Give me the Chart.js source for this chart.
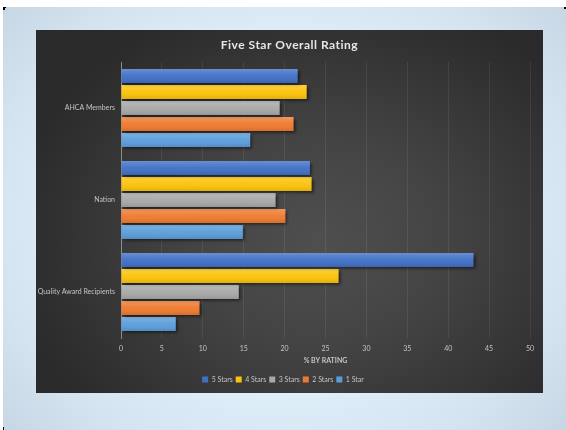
<!DOCTYPE html>
<html>
<head>
<meta charset="utf-8">
<script src="https://cdn.jsdelivr.net/npm/chart.js@4/dist/chart.umd.min.js"></script>
<style>
  html, body { margin: 0; padding: 0; background: #ffffff; }
  body { width: 566px; height: 430px; position: relative; overflow: hidden; }
  #frame {
    position: absolute; left: 3px; top: 7px; width: 563px; height: 423px;
    background: radial-gradient(ellipse 70% 80% at 50% 50%, #e8f6fd 0%, #e2f1fb 45%, #d3e3f0 75%, #c3d3e1 100%);
  }
  .mark { position: absolute; background: #000; }
  #panel {
    position: absolute; left: 36px; top: 30px; width: 507px; height: 363px;
    background: radial-gradient(ellipse 62% 70% at 56% 58%, #4f4f4f 0%, #444444 40%, #363636 72%, #2a2a2a 100%);
  }
  #panel canvas { position: absolute; left: 0; top: 0; }
</style>
</head>
<body>
<div id="frame"></div>
<div class="mark" style="left:3px;top:7px;width:2px;height:3px"></div>
<div class="mark" style="left:3px;top:7px;width:3px;height:1px"></div>
<div class="mark" style="left:564px;top:7px;width:2px;height:2px"></div>
<div class="mark" style="left:3px;top:427px;width:1px;height:3px"></div>
<div id="panel"><canvas id="chart" width="507" height="363"></canvas></div>
<script>
// Five Star Overall Rating — share of facilities (%) by star rating
const chartTitle = 'Five Star Overall Rating';
const categories = ['AHCA Members', 'Nation', 'Quality Award Recipients'];
const seriesNames = ['5 Stars', '4 Stars', '3 Stars', '2 Stars', '1 Star'];
const fiveStars  = [21.6, 23.1, 43.1];
const fourStars  = [22.7, 23.3, 26.6];
const threeStars = [19.4, 18.9, 14.4];
const twoStars   = [21.1, 20.1, 9.6];
const oneStar    = [15.8, 14.9, 6.7];
const seriesColors = ['#3f6fc6', '#fcc30a', '#a8a8a8', '#ef7a2e', '#5a9ddb'];
const xTicks = { min: 0, max: 50, step: 5 };

const seriesValues = [fiveStars, fourStars, threeStars, twoStars, oneStar];

const labelColor = '#c4c4c4';
const fontFamily = 'Lato, "Open Sans", sans-serif';

// Drop shadow behind the bars, then a soft top-lit sheen on each bar
const barStyling = {
  id: 'barStyling',
  beforeDatasetsDraw(chart) {
    const ctx = chart.ctx;
    ctx.save();
    ctx.shadowColor = 'rgba(0,0,0,0.55)';
    ctx.shadowBlur = 3;
    ctx.shadowOffsetX = 2;
    ctx.shadowOffsetY = 2;
  },
  afterDatasetsDraw(chart) {
    const ctx = chart.ctx;
    ctx.restore();
    chart.data.datasets.forEach((ds, i) => {
      const meta = chart.getDatasetMeta(i);
      meta.data.forEach(bar => {
        const top = bar.y - bar.height / 2;
        const g = ctx.createLinearGradient(0, top, 0, top + bar.height);
        g.addColorStop(0, 'rgba(255,255,255,0.22)');
        g.addColorStop(0.5, 'rgba(255,255,255,0.04)');
        g.addColorStop(1, 'rgba(0,0,0,0.10)');
        ctx.fillStyle = g;
        ctx.fillRect(bar.base, top, bar.x - bar.base, bar.height);
      });
    });
  }
};

// Letter-spaced chart heading, drawn in the space reserved by the top padding
const spacedTitle = {
  id: 'spacedTitle',
  afterDraw(chart) {
    const ctx = chart.ctx;
    ctx.save();
    ctx.font = 'bold 12px ' + fontFamily;
    if ('letterSpacing' in ctx) ctx.letterSpacing = '0.5px';
    ctx.fillStyle = '#e6e6e6';
    ctx.textAlign = 'center';
    ctx.textBaseline = 'middle';
    ctx.fillText(chartTitle, chart.width / 2, 15);
    ctx.restore();
  }
};

new Chart(document.getElementById('chart'), {
  type: 'bar',
  data: {
    labels: categories,
    datasets: seriesNames.map((name, i) => ({
      label: name,
      data: seriesValues[i],
      backgroundColor: seriesColors[i],
      borderWidth: 0,
      categoryPercentage: 0.87,
      barPercentage: 0.875
    }))
  },
  options: {
    indexAxis: 'y',
    responsive: false,
    animation: false,
    devicePixelRatio: 1,
    layout: { padding: { left: 0, right: 13, top: 32, bottom: 0 } },
    scales: {
      x: {
        min: xTicks.min,
        max: xTicks.max,
        ticks: { stepSize: xTicks.step, color: labelColor, font: { family: fontFamily, size: 7 }, padding: 7 },
        grid: { color: 'rgba(255,255,255,0.08)', lineWidth: 1, drawTicks: false },
        border: { display: false },
        title: {
          display: true, text: '% BY RATING', color: labelColor,
          font: { family: fontFamily, size: 7, weight: 'bold' },
          padding: { top: 0, bottom: 8 }
        },
        afterFit(scale) { scale.height = 35; }
      },
      y: {
        ticks: { color: labelColor, font: { family: fontFamily, size: 7 }, padding: 6 },
        grid: { display: false, drawTicks: false },
        border: { display: true, color: '#8c8c8c', width: 1 },
        afterFit(scale) { scale.width = 85; }
      }
    },
    plugins: {
      title: { display: false },
      legend: {
        position: 'bottom',
        labels: {
          color: labelColor, boxWidth: 6, boxHeight: 6, padding: 3,
          font: { family: fontFamily, size: 7 }
        }
      },
      tooltip: { enabled: false }
    }
  },
  plugins: [barStyling, spacedTitle]
});
</script>
</body>
</html>
